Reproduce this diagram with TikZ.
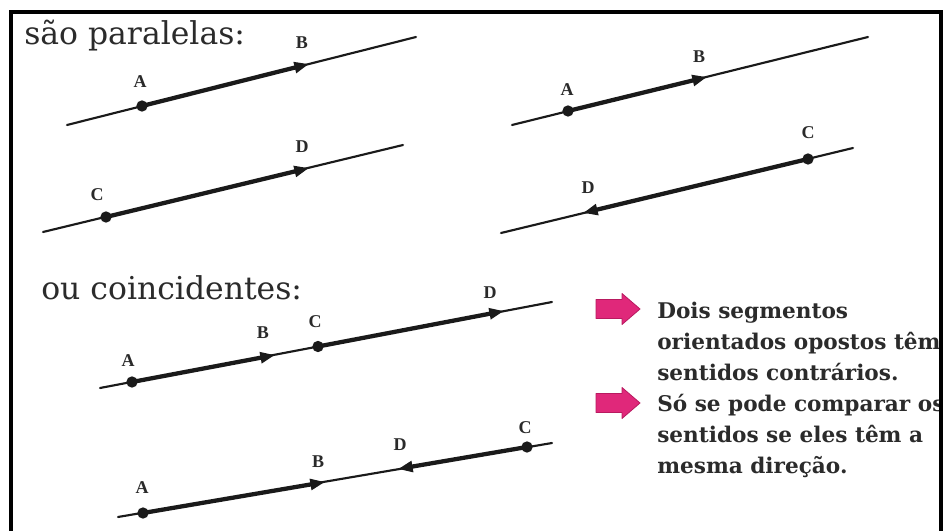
\documentclass[tikz,border=0pt]{standalone}
\usepackage{fontspec}
\setmainfont{DejaVu Serif}
\newfontfamily\lblfont{Liberation Serif}
\usetikzlibrary{arrows.meta}
\definecolor{ink}{HTML}{1A1A1A}
\definecolor{lbl}{HTML}{2A2A2A}
\definecolor{txt}{HTML}{2B2B2B}
\definecolor{pinkf}{HTML}{E0287A}
\definecolor{pinkd}{HTML}{B81A60}
\begin{document}
\begin{tikzpicture}[x=0.75pt,y=-0.75pt,
  thinln/.style={ink, line width=1.6pt, line cap=round},
  thickln/.style={ink, line width=3.2pt},
  tipend/.style={-{Triangle[length=11pt,width=8pt]}},
  dotpt/.style={circle, fill=ink, inner sep=0pt, minimum size=8.5pt},
  ptlbl/.style={font=\lblfont\bfseries\fontsize{13.5pt}{13.5pt}\selectfont, text=lbl, inner sep=0pt},
  titletext/.style={font=\fontsize{23.6pt}{27pt}\selectfont, text=txt, anchor=base west, inner sep=0pt},
  notetext/.style={font=\bfseries\fontsize{16.2pt}{18pt}\selectfont, text=txt, anchor=base west, inner sep=0pt},
  pinkarrow/.pic={\fill[pinkf, draw=pinkd, line width=0.6pt, line join=round]
     (0,-9.5) -- (26,-9.5) -- (26,-15.5) -- (44,0) -- (26,15.5) -- (26,9.5) -- (0,9.5) -- cycle;}
]
\useasboundingbox (0,0) rectangle (943,531);
\fill[white] (0,0) rectangle (943,531);

% titles
\node[titletext] (t1) at (24,45) {são paralelas:};
\node[titletext] (t2) at (41,300) {ou coincidentes:};

% ---------- parallel, left top ----------
\coordinate (p1s) at (67,125); \coordinate (p1e) at (416,37);
\coordinate (p1B) at (309,64);
\draw[thinln] (p1s) -- (p1e);
\node[dotpt] (p1A) at (142,106) {};
\draw[thickln,tipend] (p1A.center) -- (p1B);
\node[ptlbl] (p1Al) at (140,82) {A};
\node[ptlbl] (p1Bl) at (302,43) {B};

% ---------- parallel, left bottom ----------
\coordinate (p2s) at (43,232); \coordinate (p2e) at (403,145);
\coordinate (p2D) at (309,168);
\draw[thinln] (p2s) -- (p2e);
\node[dotpt] (p2C) at (106,217) {};
\draw[thickln,tipend] (p2C.center) -- (p2D);
\node[ptlbl] (p2Cl) at (97,195) {C};
\node[ptlbl] (p2Dl) at (302,147) {D};

% ---------- parallel, right top ----------
\coordinate (p3s) at (512,125); \coordinate (p3e) at (868,37);
\coordinate (p3B) at (707,77);
\draw[thinln] (p3s) -- (p3e);
\node[dotpt] (p3A) at (568,111) {};
\draw[thickln,tipend] (p3A.center) -- (p3B);
\node[ptlbl] (p3Al) at (567,90) {A};
\node[ptlbl] (p3Bl) at (699,57) {B};

% ---------- parallel, right bottom ----------
\coordinate (p4s) at (501,233); \coordinate (p4e) at (853,148);
\coordinate (p4D) at (583,213);
\draw[thinln] (p4s) -- (p4e);
\node[dotpt] (p4C) at (808,159) {};
\draw[thickln,tipend] (p4C.center) -- (p4D);
\node[ptlbl] (p4Cl) at (808,133) {C};
\node[ptlbl] (p4Dl) at (588,188) {D};

% ---------- coincident, top ----------
\coordinate (k1s) at (100,388); \coordinate (k1e) at (552,302);
\coordinate (k1B) at (275,355); \coordinate (k1D) at (504,311);
\draw[thinln] (k1s) -- (k1e);
\node[dotpt] (k1A) at (132,382) {};
\node[dotpt] (k1C) at (318,346.5) {};
\draw[thickln,tipend] (k1A.center) -- (k1B);
\draw[thickln,tipend] (k1C.center) -- (k1D);
\node[ptlbl] (k1Al) at (128,361) {A};
\node[ptlbl] (k1Bl) at (263,333) {B};
\node[ptlbl] (k1Cl) at (315,322) {C};
\node[ptlbl] (k1Dl) at (490,293) {D};

% ---------- coincident, bottom ----------
\coordinate (k2s) at (118,517); \coordinate (k2e) at (552,443);
\coordinate (k2B) at (325,482); \coordinate (k2D) at (398,469);
\draw[thinln] (k2s) -- (k2e);
\node[dotpt] (k2A) at (143,513) {};
\node[dotpt] (k2C) at (527,447) {};
\draw[thickln,tipend] (k2A.center) -- (k2B);
\draw[thickln,tipend] (k2C.center) -- (k2D);
\node[ptlbl] (k2Al) at (142,488) {A};
\node[ptlbl] (k2Bl) at (318,462) {B};
\node[ptlbl] (k2Dl) at (400,445) {D};
\node[ptlbl] (k2Cl) at (525,428) {C};

% ---------- pink arrows and notes ----------
\pic at (596,309) {pinkarrow};
\pic at (596,403) {pinkarrow};
\node[notetext] (n1) at (657,318) {Dois segmentos};
\node[notetext] (n2) at (657,349) {orientados opostos têm};
\node[notetext] (n3) at (657,380) {sentidos contrários.};
\node[notetext] (n4) at (657,411) {Só se pode comparar os};
\node[notetext] (n5) at (657,442) {sentidos se eles têm a};
\node[notetext] (n6) at (657,473) {mesma direção.};

% frame (drawn last, over text that reaches it)
\draw[black, line width=2.3pt] (11,531) -- (11,12) -- (941,12) -- (941,531);
\end{tikzpicture}
\end{document}
